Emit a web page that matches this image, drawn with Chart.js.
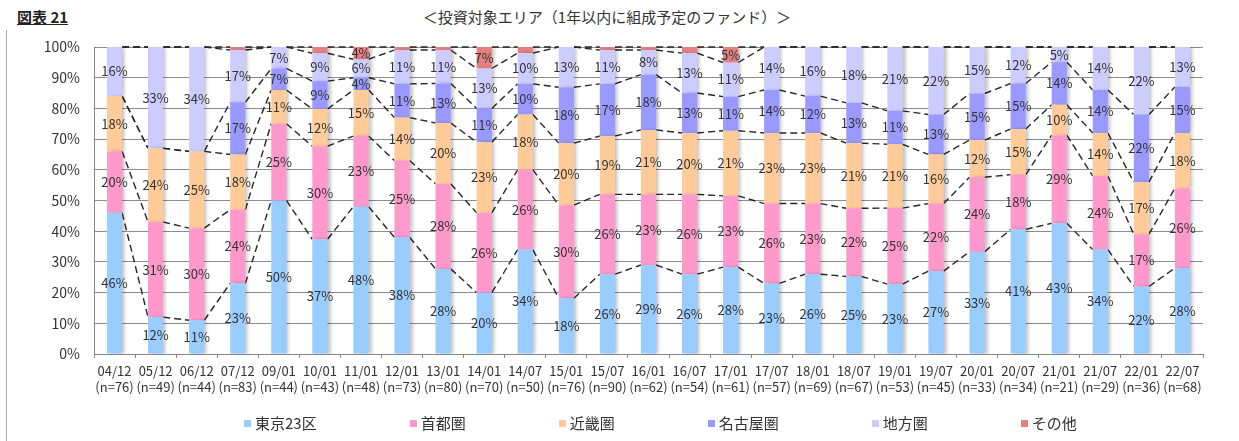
<!DOCTYPE html>
<html lang="ja">
<head>
<meta charset="utf-8">
<script src="https://cdn.jsdelivr.net/npm/chart.js@4.4.1/dist/chart.umd.min.js"></script>
<style>
    html, body { margin: 0; padding: 0; background: #fff; }
    body {
        width: 1239px; height: 441px; position: relative; overflow: hidden;
        font-family: "Noto Sans CJK JP", sans-serif; color: #333;
    }
    #frame { position: absolute; left: 6px; top: 30px; width: 1px; height: 411px; background: #a6a6a6; }
    #fig {
        position: absolute; left: 17px; top: 6px; font-size: 15px; font-weight: bold;
        text-decoration: underline; line-height: 22px; color: #222;
    }
    #title { position: absolute; left: 0; width: 1214px; top: 6px; text-align: center; font-size: 15px; line-height: 22px; }
    #wrap { position: absolute; left: 0; top: 0; width: 1239px; height: 441px; }
    #legend { position: absolute; left: 244px; top: 413px; display: flex; gap: 93px; font-size: 15px; line-height: 20px; }
    .item { display: flex; align-items: center; }
    .box { width: 7px; height: 7px; margin-right: 4px; }
</style>
</head>
<body>
<div id="frame"></div>
<div id="fig">図表 21</div>
<div id="title">＜投資対象エリア（1年以内に組成予定のファンド）＞</div>
<div id="wrap"><canvas id="chart" width="1239" height="441"></canvas></div>
<div id="legend"></div>

<script>
// 調査時点とサンプル数
const CATEGORIES = ['04/12', '05/12', '06/12', '07/12', '09/01', '10/01', '11/01', '12/01', '13/01',
    '14/01', '14/07', '15/01', '15/07', '16/01', '16/07', '17/01', '17/07', '18/01', '18/07',
    '19/01', '19/07', '20/01', '20/07', '21/01', '21/07', '22/01', '22/07'];
const SAMPLE_SIZES = [76, 49, 44, 83, 44, 43, 48, 73, 80, 70, 50, 76, 90, 62, 54, 61, 57, 69, 67,
    53, 45, 33, 34, 21, 29, 36, 68];

const SERIES_NAMES = ['東京23区', '首都圏', '近畿圏', '名古屋圏', '地方圏', 'その他'];
const SERIES_COLORS = ['#99CCFF', '#FF99CC', '#FFCC99', '#9999FF', '#CCCCFF', '#E58080'];

// 各エリアの割合(%)
const TOKYO  = [46, 12, 11, 23, 50, 37, 48, 38, 28, 20, 34, 18, 26, 29, 26, 28, 23, 26, 25, 23, 27, 33, 41, 43, 34, 22, 28];
const SHUTO  = [20, 31, 30, 24, 25, 30, 23, 25, 28, 26, 26, 30, 26, 23, 26, 23, 26, 23, 22, 25, 22, 24, 18, 29, 24, 17, 26];
const KINKI  = [18, 24, 25, 18, 11, 12, 15, 14, 20, 23, 18, 20, 19, 21, 20, 21, 23, 23, 21, 21, 16, 12, 15, 10, 14, 17, 18];
const NAGOYA = [0, 0, 0, 17, 7, 9, 4, 11, 13, 11, 10, 18, 17, 18, 13, 11, 14, 12, 13, 11, 13, 15, 15, 14, 14, 22, 15];
const CHIHO  = [16, 33, 34, 17, 7, 9, 6, 11, 11, 13, 10, 13, 11, 8, 13, 11, 14, 16, 18, 21, 22, 15, 12, 5, 14, 22, 13];
const OTHER  = [0, 0, 0, 1, 0, 2, 4, 1, 1, 7, 2, 0, 1, 1, 2, 5, 0, 0, 0, 0, 0, 0, 0, 0, 0, 0, 0];

const Y_TICKS = [0, 10, 20, 30, 40, 50, 60, 70, 80, 90, 100];

const SERIES_VALUES = [TOKYO, SHUTO, KINKI, NAGOYA, CHIHO, OTHER];
const FONT = '"Noto Sans CJK JP", sans-serif';
const TEXT_COLOR = '#333';
const AXIS_COLOR = '#868686';

// 100%積み上げ: 時点ごとの合計で割る
const totals = CATEGORIES.map((c, i) => SERIES_VALUES.reduce((sum, arr) => sum + arr[i], 0));

const datasets = SERIES_NAMES.map((name, s) => ({
    label: name,
    data: SERIES_VALUES[s].map((v, i) => v / totals[i] * 100),
    raw: SERIES_VALUES[s],
    backgroundColor: SERIES_COLORS[s],
    borderWidth: 0,
    barPercentage: 0.37,
    categoryPercentage: 1
}));

// 区分線 (破線)
const seriesLines = {
    id: 'seriesLines',
    beforeDatasetsDraw(chart) {
        const ctx = chart.ctx;
        ctx.save();
        ctx.setLineDash([7, 4]);
        ctx.strokeStyle = '#262626';
        ctx.lineWidth = 1.4;
        chart.data.datasets.forEach((ds, d) => {
            const bars = chart.getDatasetMeta(d).data;
            for (let i = 0; i < bars.length - 1; i++) {
                const a = bars[i], b = bars[i + 1];
                ctx.beginPath();
                ctx.moveTo(a.x + a.width / 2, a.y);
                ctx.lineTo(b.x - b.width / 2, b.y);
                ctx.stroke();
            }
        });
        ctx.restore();
    }
};

// 棒の影
const barShadow = {
    id: 'barShadow',
    beforeDatasetDraw(chart) {
        const ctx = chart.ctx;
        ctx.save();
        ctx.shadowColor = 'rgba(0, 0, 0, 0.22)';
        ctx.shadowBlur = 3;
        ctx.shadowOffsetX = 3;
        ctx.shadowOffsetY = 0;
    },
    afterDatasetDraw(chart) {
        chart.ctx.restore();
    }
};

// データラベル
const valueLabels = {
    id: 'valueLabels',
    afterDatasetsDraw(chart) {
        const ctx = chart.ctx;
        ctx.save();
        ctx.font = '13px ' + FONT;
        ctx.fillStyle = TEXT_COLOR;
        ctx.textAlign = 'center';
        ctx.textBaseline = 'middle';
        chart.data.datasets.forEach((ds, d) => {
            chart.getDatasetMeta(d).data.forEach((bar, i) => {
                const v = ds.raw[i];
                if (v < 3) return;
                ctx.fillText(v + '%', bar.x, (bar.y + bar.base) / 2);
            });
        });
        ctx.restore();
    }
};

new Chart(document.getElementById('chart'), {
    type: 'bar',
    data: {
        labels: CATEGORIES.map((c, i) => [c, '(n=' + SAMPLE_SIZES[i] + ')']),
        datasets: datasets
    },
    options: {
        responsive: false,
        animation: false,
        devicePixelRatio: 1,
        layout: { padding: { top: 47, right: 36, left: 0, bottom: 0 } },
        plugins: {
            legend: { display: false },
            tooltip: { enabled: false }
        },
        scales: {
            x: {
                stacked: true,
                grid: { offset: true, drawOnChartArea: false, drawTicks: true, tickLength: 4, color: AXIS_COLOR },
                border: { color: AXIS_COLOR },
                ticks: { color: TEXT_COLOR, font: { size: 13, family: FONT, lineHeight: 1.25 }, padding: 5,
                         maxRotation: 0, autoSkip: false },
                afterFit: s => { s.height = 87; }
            },
            y: {
                stacked: true,
                min: 0,
                max: 100,
                afterBuildTicks: s => { s.ticks = Y_TICKS.map(v => ({ value: v })); },
                ticks: { color: TEXT_COLOR, font: { size: 14, family: FONT }, padding: 14,
                         callback: v => v + '%' },
                grid: { color: '#8c8c8c', drawTicks: false },
                border: { color: AXIS_COLOR },
                afterFit: s => { s.width = 94; }
            }
        }
    },
    plugins: [seriesLines, barShadow, valueLabels]
});

// 凡例
const legend = document.getElementById('legend');
SERIES_NAMES.forEach((name, s) => {
    const item = document.createElement('div');
    item.className = 'item';
    const box = document.createElement('span');
    box.className = 'box';
    box.style.background = SERIES_COLORS[s];
    const txt = document.createElement('span');
    txt.textContent = name;
    item.appendChild(box);
    item.appendChild(txt);
    legend.appendChild(item);
});
</script>
</body>
</html>
